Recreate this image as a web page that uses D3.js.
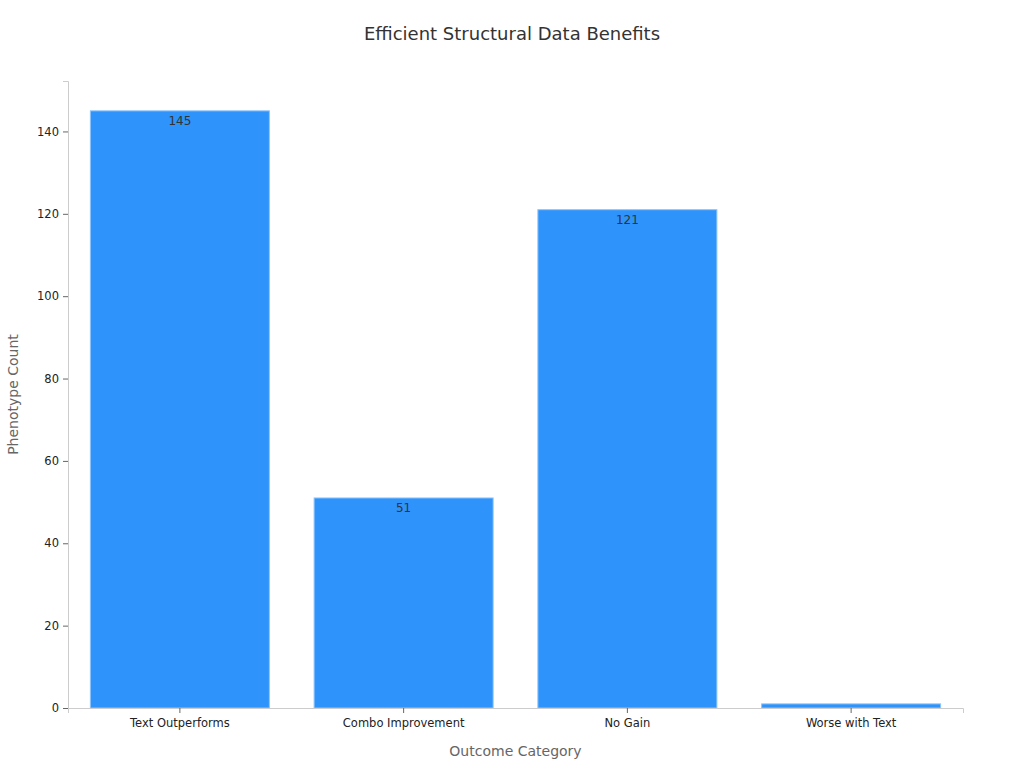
<!DOCTYPE html>
<html>
<head>
<meta charset="utf-8">
<script src="https://cdn.jsdelivr.net/npm/d3@7"></script>
<style>
  body { margin: 0; background: #fff; font-family: "DejaVu Sans", sans-serif; }
</style>
</head>
<body>
<svg id="chart" width="1024" height="768"></svg>
<script>
// data
const categories = ["Text Outperforms", "Combo Improvement", "No Gain", "Worse with Text"];
const counts = [145, 51, 121, 1];
const yTicks = [0, 20, 40, 60, 80, 100, 120, 140];

const margin = { top: 81, right: 61, bottom: 60, left: 68 };
const width = 1024, height = 768;

const svg = d3.select("#chart");

const x = d3.scaleBand()
  .domain(categories)
  .range([margin.left, width - margin.right])
  .paddingInner(0.2)
  .paddingOuter(0.1);

const y = d3.scaleLinear()
  .domain([0, d3.max(counts) * 1.05])
  .range([height - margin.bottom, margin.top]);

// title
svg.append("text")
  .attr("x", width / 2).attr("y", 40)
  .attr("text-anchor", "middle")
  .attr("font-size", 18)
  .attr("fill", "#333")
  .text("Efficient Structural Data Benefits");

// bars
svg.selectAll("rect.bar")
  .data(counts)
  .join("rect")
  .attr("class", "bar")
  .attr("x", (d, i) => x(categories[i]))
  .attr("width", x.bandwidth())
  .attr("y", d => y(d))
  .attr("height", d => y(0) - y(d))
  .attr("fill", "#2e93fa")
  .attr("stroke", "#8cc4fc")
  .attr("stroke-width", 1);

// value labels (only where the bar is tall enough to hold them)
svg.selectAll("text.val")
  .data(counts.filter(d => y(0) - y(d) > 16))
  .join("text")
  .attr("class", "val")
  .attr("x", d => x(categories[counts.indexOf(d)]) + x.bandwidth() / 2)
  .attr("y", d => y(d) + 14)
  .attr("text-anchor", "middle")
  .attr("font-size", 12)
  .attr("fill", "#333")
  .text(d => d);

// axes
const yAxis = svg.append("g")
  .attr("transform", `translate(${margin.left},0)`)
  .call(d3.axisLeft(y).tickValues(yTicks).tickSize(5).tickPadding(4));
const xAxis = svg.append("g")
  .attr("transform", `translate(0,${height - margin.bottom})`)
  .call(d3.axisBottom(x).tickSize(5).tickPadding(6));

[yAxis, xAxis].forEach(g => {
  g.selectAll("path").attr("stroke", "#ccc");
  g.selectAll("line").attr("stroke", "#666");
  g.selectAll("text").attr("fill", "#222").attr("font-size", 11.5)
    .attr("font-family", "DejaVu Sans, sans-serif");
});

// axis titles
svg.append("text")
  .attr("x", (margin.left + width - margin.right) / 2)
  .attr("y", 756)
  .attr("text-anchor", "middle")
  .attr("font-size", 14)
  .attr("fill", "#666")
  .text("Outcome Category");

svg.append("text")
  .attr("transform", `translate(18,${(margin.top + height - margin.bottom) / 2}) rotate(-90)`)
  .attr("text-anchor", "middle")
  .attr("font-size", 14)
  .attr("fill", "#666")
  .text("Phenotype Count");
</script>
</body>
</html>
